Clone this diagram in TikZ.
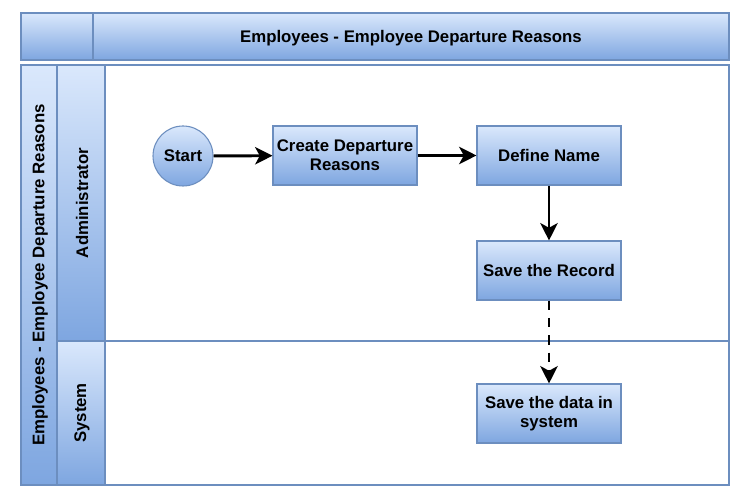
\documentclass[tikz,border=0pt]{standalone}
\usepackage{fontspec}
\setmainfont{Liberation Sans}
\usetikzlibrary{arrows.meta,shapes.geometric}
\definecolor{fillTop}{HTML}{DAE8FC}
\definecolor{fillBot}{HTML}{7EA6E0}
\definecolor{edgeBlue}{HTML}{6C8EBF}
\tikzset{
  x=0.75pt,y=-0.75pt,
  lbl/.style={font=\bfseries\fontsize{12.6}{14.5}\selectfont, text=black},
  vgrad/.style={top color=fillTop, bottom color=fillBot, draw=edgeBlue, line width=0.8pt},
  procbox/.style={vgrad, rectangle, minimum width=108pt, minimum height=44.25pt, align=center, inner sep=1pt, lbl},
  startnode/.style={vgrad, circle, minimum size=45pt, inner sep=0pt, lbl},
  flow/.style={line width=2.2pt, -{Stealth[length=13pt,width=13pt,inset=3.5pt]}},
}
\begin{document}
\begin{tikzpicture}
\useasboundingbox (0,0) rectangle (742,498);
% header
\draw[vgrad] (21,13) rectangle (93,60);
\draw[vgrad] (93,13) rectangle (729,60);
\node[lbl] (title) at (411,38) {Employees - Employee Departure Reasons};
% pool
\draw[draw=edgeBlue, line width=0.8pt, fill=white] (21,65) rectangle (729,485);
\draw[vgrad] (21,65) rectangle (57,485);
\node[lbl, rotate=90] (pooltitle) at (40,275) {Employees - Employee Departure Reasons};
\draw[vgrad] (57,65) rectangle (105,341);
\node[lbl, rotate=90] (lane1) at (82,203) {Administrator};
\draw[vgrad] (57,341) rectangle (105,485);
\node[lbl, rotate=90] (lane2) at (82,413) {System};
\draw[draw=edgeBlue, line width=0.8pt] (105,341) -- (729,341);
% nodes
\node[startnode] (start) at (183,156) {\raisebox{-1pt}{Start}};
\node[procbox] (create) at (345,155.5) {Create Departure\\Reasons};
\node[procbox] (define) at (549,155.5) {\raisebox{-1pt}{Define Name}};
\node[procbox] (save) at (549,270.5) {\raisebox{-1pt}{Save the Record}};
\node[procbox] (sys) at (549,413.5) {Save the data in\\system};
% edges
\draw[flow] (start) -- (create);
\draw[flow] (create) -- (define);
\draw[flow] (define) -- (save);
\draw[flow, dash pattern=on 7pt off 6pt] (save) -- (sys);
\end{tikzpicture}
\end{document}
